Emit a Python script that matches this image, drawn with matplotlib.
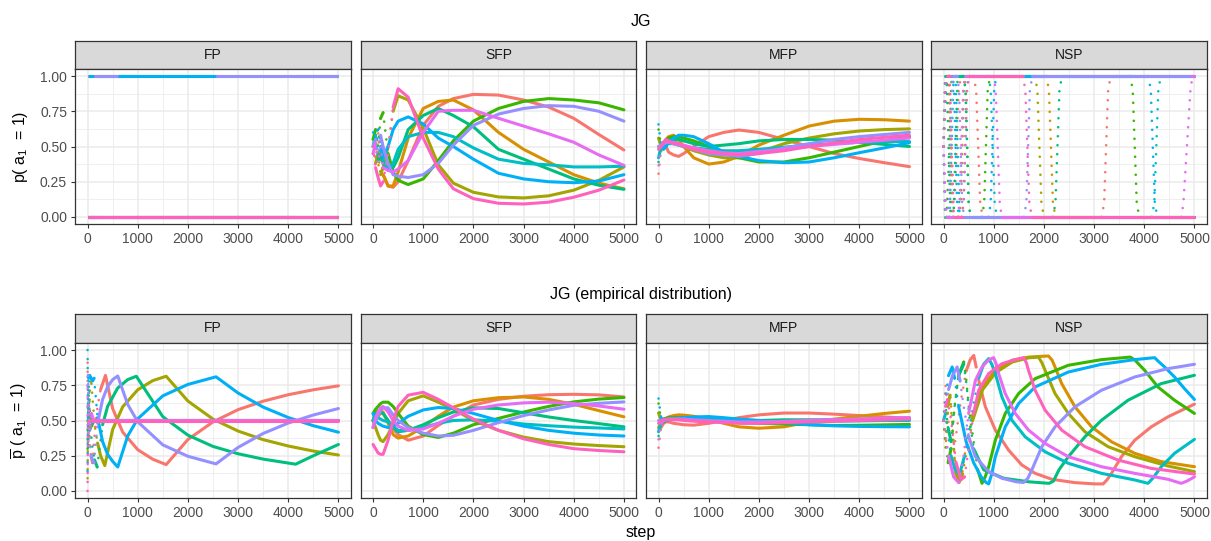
import numpy as np
import matplotlib.pyplot as plt

plt.rcParams['font.family'] = ['Liberation Sans', 'DejaVu Sans']
plt.rcParams['mathtext.default'] = 'regular'

# ggplot hue palette, 10 runs
COLORS = ["#F8766D", "#D89000", "#A3A500", "#39B600", "#00BF7D",
          "#00BFC4", "#00B0F6", "#9590FF", "#E76BF3", "#FF62BC"]
PANELS = ["FP", "SFP", "MFP", "NSP"]

# ---------------- data ----------------
STEP_GRID = [0, 50, 100, 150, 200, 300, 400, 500, 700, 1000, 1300, 1600,
             2000, 2500, 3000, 3500, 4000, 4500, 5000]

# FP, p(a1=1): intervals where a run plays a1 (p = 1), otherwise p = 0
fp_on = [
    [(100, 357), (1567, 5000)],
    [],
    [(0, 70), (344, 1567)],
    [],
    [(192, 972), (4147, 5000)],
    [],
    [(0, 130), (602, 2560)],
    [(130, 602), (2560, 5000)],
    [],
    [],
]

sfp_p = [
    [0.55, 0.42, 0.6, 0.4, 0.3, 0.22, 0.21, 0.25, 0.4, 0.65, 0.785, 0.84, 0.87, 0.865, 0.83, 0.78, 0.7, 0.585, 0.475],
    [0.45, 0.55, 0.35, 0.45, 0.3, 0.22, 0.22, 0.32, 0.56, 0.77, 0.82, 0.83, 0.76, 0.6, 0.48, 0.39, 0.3, 0.24, 0.2],
    [0.5, 0.38, 0.45, 0.3, 0.35, 0.5, 0.75, 0.86, 0.83, 0.63, 0.37, 0.24, 0.175, 0.142, 0.135, 0.15, 0.19, 0.26, 0.355],
    [0.55, 0.62, 0.5, 0.7, 0.74, 0.45, 0.32, 0.26, 0.23, 0.27, 0.4, 0.54, 0.68, 0.77, 0.82, 0.84, 0.83, 0.81, 0.76],
    [0.5, 0.58, 0.4, 0.45, 0.38, 0.35, 0.35, 0.42, 0.62, 0.72, 0.77, 0.72, 0.64, 0.48, 0.41, 0.34, 0.27, 0.225, 0.196],
    [0.45, 0.6, 0.42, 0.55, 0.4, 0.33, 0.38, 0.48, 0.57, 0.6, 0.6, 0.57, 0.49, 0.41, 0.38, 0.37, 0.355, 0.355, 0.36],
    [0.6, 0.48, 0.65, 0.5, 0.42, 0.5, 0.62, 0.68, 0.71, 0.66, 0.56, 0.5, 0.41, 0.31, 0.27, 0.25, 0.243, 0.255, 0.3],
    [0.5, 0.55, 0.45, 0.58, 0.5, 0.38, 0.3, 0.29, 0.28, 0.3, 0.38, 0.51, 0.65, 0.73, 0.77, 0.79, 0.785, 0.75, 0.68],
    [0.45, 0.52, 0.38, 0.5, 0.35, 0.33, 0.32, 0.34, 0.4, 0.6, 0.75, 0.757, 0.757, 0.7, 0.645, 0.59, 0.53, 0.44, 0.366],
    [0.5, 0.35, 0.28, 0.22, 0.25, 0.45, 0.78, 0.91, 0.85, 0.56, 0.34, 0.2, 0.13, 0.097, 0.092, 0.105, 0.14, 0.19, 0.262],
]

mfp_p = [
    [0.307, 0.48, 0.52, 0.5, 0.46, 0.44, 0.43, 0.45, 0.5, 0.57, 0.6, 0.617, 0.6, 0.55, 0.5, 0.45, 0.415, 0.385, 0.357],
    [0.5, 0.47, 0.5, 0.55, 0.57, 0.58, 0.55, 0.5, 0.42, 0.375, 0.39, 0.43, 0.51, 0.58, 0.645, 0.68, 0.693, 0.69, 0.68],
    [0.56, 0.5, 0.52, 0.54, 0.55, 0.54, 0.52, 0.5, 0.47, 0.44, 0.42, 0.42, 0.46, 0.52, 0.56, 0.59, 0.61, 0.62, 0.625],
    [0.62, 0.5, 0.53, 0.55, 0.56, 0.57, 0.57, 0.56, 0.54, 0.5, 0.45, 0.42, 0.39, 0.39, 0.42, 0.46, 0.5, 0.54, 0.57],
    [0.39, 0.5, 0.52, 0.53, 0.54, 0.55, 0.55, 0.54, 0.52, 0.5, 0.51, 0.52, 0.54, 0.55, 0.55, 0.545, 0.53, 0.515, 0.5],
    [0.42, 0.5, 0.51, 0.52, 0.52, 0.52, 0.51, 0.5, 0.49, 0.48, 0.47, 0.47, 0.48, 0.495, 0.51, 0.52, 0.53, 0.535, 0.535],
    [0.657, 0.5, 0.48, 0.5, 0.53, 0.56, 0.58, 0.58, 0.57, 0.52, 0.46, 0.43, 0.4, 0.385, 0.39, 0.42, 0.456, 0.49, 0.527],
    [0.5, 0.51, 0.52, 0.53, 0.53, 0.52, 0.51, 0.5, 0.48, 0.45, 0.44, 0.43, 0.45, 0.49, 0.52, 0.55, 0.57, 0.585, 0.6],
    [0.366, 0.5, 0.52, 0.53, 0.53, 0.53, 0.52, 0.51, 0.49, 0.47, 0.455, 0.45, 0.465, 0.48, 0.5, 0.515, 0.53, 0.545, 0.56],
    [0.48, 0.5, 0.53, 0.55, 0.54, 0.52, 0.52, 0.5, 0.48, 0.46, 0.45, 0.44, 0.45, 0.47, 0.5, 0.525, 0.55, 0.565, 0.58],
]

nsp_p = [
    [(0, 0.5), (30, 0.8), (60, 1), (100, 1), (130, 0.5), (160, 0), (180, 0), (220, 0.1), (300, 0.9), (350, 1), (600, 1), (650, 0.9), (730, 0.1), (780, 0), (3150, 0), (3200, 0.1), (3280, 0.9), (3330, 1), (5000, 1)],
    [(0, 0.5), (40, 1), (100, 1), (140, 0.5), (180, 0), (300, 0), (340, 0.1), (400, 0.9), (440, 1), (2050, 1), (2100, 0.9), (2180, 0.1), (2230, 0), (5000, 0)],
    [(0, 0.5), (40, 0.9), (80, 1), (120, 1), (160, 0.5), (200, 0), (300, 0), (340, 0.1), (400, 0.9), (440, 1), (1820, 1), (1870, 0.9), (1950, 0.1), (2000, 0), (5000, 0)],
    [(0, 0.5), (30, 0), (60, 0), (120, 0.5), (160, 1), (400, 1), (440, 0.9), (500, 0.1), (540, 0), (767, 0), (810, 0.1), (880, 0.9), (930, 1), (3720, 1), (3770, 0.9), (3850, 0.1), (3900, 0), (5000, 0)],
    [(0, 0.5), (30, 1), (60, 1), (100, 0.5), (140, 0), (200, 0), (240, 0.5), (280, 1), (400, 1), (440, 0.9), (500, 0.1), (540, 0), (2180, 0), (2230, 0.1), (2310, 0.9), (2360, 1), (5000, 1)],
    [(0, 0.5), (40, 0), (120, 0), (160, 0.5), (200, 1), (240, 1), (280, 0.5), (320, 0), (360, 0), (400, 0.1), (460, 0.9), (500, 1), (899, 1), (940, 0.9), (1020, 0.1), (1060, 0), (4150, 0), (4200, 0.1), (4280, 0.9), (4330, 1), (5000, 1)],
    [(0, 0.5), (40, 0.9), (80, 1), (172, 1), (210, 0.9), (270, 0.1), (310, 0), (899, 0), (940, 0.1), (1010, 0.9), (1050, 1), (4080, 1), (4130, 0.9), (4210, 0.1), (4260, 0), (5000, 0)],
    [(0, 0.5), (40, 0), (100, 0), (140, 0.5), (180, 1), (271, 1), (310, 0.9), (370, 0.1), (410, 0), (1600, 0), (1650, 0.1), (1720, 0.9), (1770, 1), (5000, 1)],
    [(0, 0.5), (40, 0.1), (70, 0), (280, 0), (320, 0.1), (390, 0.9), (430, 1), (999, 1), (1040, 0.9), (1120, 0.1), (1160, 0), (4740, 0), (4780, 0.1), (4920, 0.9), (4960, 1), (5000, 1)],
    [(0, 0.5), (30, 0.9), (60, 1), (120, 1), (160, 0.5), (200, 0), (360, 0), (400, 0.1), (470, 0.9), (510, 1), (1580, 1), (1630, 0.9), (1710, 0.1), (1760, 0), (5000, 0)],
]

fp_emp = [
    [(0, 0.91), (10, 0.45), (25, 0.7), (45, 0.3), (70, 0.25), (100, 0.2), (150, 0.45), (200, 0.6), (260, 0.72), (357, 0.82), (500, 0.585), (700, 0.418), (1000, 0.293), (1300, 0.225), (1567, 0.187), (2000, 0.365), (2500, 0.49), (3000, 0.577), (3500, 0.637), (4000, 0.683), (4500, 0.718), (5000, 0.746)],
    [(0, 0.6), (15, 0.4), (30, 0.58), (50, 0.45), (80, 0.52), (120, 0.5), (5000, 0.5)],
    [(0, 0.09), (10, 0.55), (25, 0.35), (45, 0.7), (70, 0.8), (100, 0.65), (150, 0.45), (200, 0.34), (260, 0.25), (344, 0.18), (500, 0.436), (700, 0.597), (1000, 0.718), (1300, 0.783), (1567, 0.814), (2000, 0.638), (2500, 0.51), (3000, 0.425), (3500, 0.364), (4000, 0.319), (4500, 0.283), (5000, 0.255)],
    [(0, 0.3), (15, 0.65), (30, 0.4), (50, 0.58), (80, 0.46), (120, 0.5), (5000, 0.5)],
    [(0, 0.5), (10, 0.3), (25, 0.75), (45, 0.55), (70, 0.4), (100, 0.3), (140, 0.22), (192, 0.17), (300, 0.47), (400, 0.6), (600, 0.73), (800, 0.79), (972, 0.814), (1500, 0.527), (2000, 0.396), (2500, 0.316), (3000, 0.264), (3500, 0.226), (4000, 0.198), (4147, 0.19), (4500, 0.25), (5000, 0.33)],
    [(0, 1.0), (10, 0.5), (25, 0.62), (45, 0.42), (70, 0.55), (100, 0.48), (140, 0.5), (5000, 0.5)],
    [(0, 0.14), (10, 0.6), (25, 0.8), (45, 0.82), (70, 0.8), (100, 0.78), (130, 0.8), (200, 0.52), (300, 0.35), (400, 0.26), (500, 0.21), (602, 0.17), (800, 0.39), (1000, 0.512), (1500, 0.675), (2000, 0.756), (2560, 0.81), (3000, 0.695), (3500, 0.595), (4000, 0.521), (4500, 0.463), (5000, 0.417)],
    [(0, 0.75), (10, 0.85), (25, 0.5), (45, 0.35), (70, 0.25), (100, 0.22), (130, 0.2), (200, 0.48), (300, 0.65), (400, 0.74), (500, 0.79), (602, 0.816), (800, 0.614), (1000, 0.491), (1500, 0.327), (2000, 0.246), (2560, 0.192), (3000, 0.309), (3500, 0.408), (4000, 0.482), (4500, 0.539), (5000, 0.585)],
    [(0, 0.73), (15, 0.35), (30, 0.62), (50, 0.42), (80, 0.55), (120, 0.5), (5000, 0.5)],
    [(0, 0.0), (8, 0.5), (5000, 0.5)],
]

sfp_emp = [
    [0.45, 0.5, 0.53, 0.55, 0.55, 0.5, 0.44, 0.4, 0.36, 0.39, 0.465, 0.53, 0.61, 0.65, 0.672, 0.683, 0.686, 0.682, 0.667],
    [0.5, 0.55, 0.57, 0.57, 0.56, 0.48, 0.4, 0.375, 0.39, 0.455, 0.53, 0.595, 0.64, 0.662, 0.667, 0.65, 0.615, 0.57, 0.526],
    [0.5, 0.45, 0.4, 0.36, 0.35, 0.4, 0.48, 0.55, 0.64, 0.675, 0.63, 0.58, 0.5, 0.43, 0.382, 0.35, 0.333, 0.322, 0.314],
    [0.55, 0.58, 0.6, 0.62, 0.63, 0.63, 0.6, 0.55, 0.46, 0.4, 0.38, 0.41, 0.47, 0.515, 0.56, 0.6, 0.632, 0.652, 0.663],
    [0.5, 0.55, 0.56, 0.56, 0.55, 0.5, 0.45, 0.42, 0.43, 0.47, 0.52, 0.56, 0.59, 0.585, 0.555, 0.525, 0.5, 0.478, 0.455],
    [0.5, 0.53, 0.52, 0.51, 0.5, 0.49, 0.46, 0.43, 0.43, 0.45, 0.48, 0.5, 0.505, 0.495, 0.475, 0.463, 0.453, 0.447, 0.44],
    [0.55, 0.5, 0.48, 0.47, 0.46, 0.45, 0.46, 0.48, 0.53, 0.575, 0.592, 0.585, 0.55, 0.5, 0.46, 0.43, 0.41, 0.397, 0.39],
    [0.45, 0.5, 0.54, 0.57, 0.59, 0.59, 0.54, 0.5, 0.45, 0.41, 0.39, 0.395, 0.43, 0.485, 0.535, 0.575, 0.608, 0.622, 0.632],
    [0.45, 0.52, 0.56, 0.59, 0.6, 0.56, 0.5, 0.46, 0.43, 0.44, 0.48, 0.53, 0.58, 0.61, 0.625, 0.63, 0.62, 0.603, 0.58],
    [0.33, 0.3, 0.27, 0.26, 0.26, 0.36, 0.5, 0.6, 0.68, 0.7, 0.65, 0.59, 0.51, 0.43, 0.37, 0.33, 0.3, 0.287, 0.278],
]

mfp_emp = [
    [0.307, 0.45, 0.48, 0.49, 0.49, 0.48, 0.475, 0.47, 0.467, 0.48, 0.5, 0.52, 0.54, 0.553, 0.553, 0.545, 0.535, 0.525, 0.515],
    [0.45, 0.48, 0.5, 0.515, 0.525, 0.535, 0.54, 0.538, 0.53, 0.51, 0.48, 0.455, 0.445, 0.455, 0.49, 0.51, 0.53, 0.55, 0.566],
    [0.554, 0.5, 0.51, 0.515, 0.52, 0.52, 0.52, 0.52, 0.51, 0.5, 0.49, 0.485, 0.485, 0.49, 0.495, 0.5, 0.505, 0.508, 0.51],
    [0.62, 0.5, 0.51, 0.515, 0.52, 0.52, 0.52, 0.52, 0.515, 0.51, 0.495, 0.485, 0.48, 0.475, 0.47, 0.465, 0.466, 0.469, 0.472],
    [0.39, 0.48, 0.49, 0.5, 0.505, 0.51, 0.515, 0.52, 0.52, 0.515, 0.51, 0.505, 0.5, 0.505, 0.505, 0.505, 0.505, 0.506, 0.507],
    [0.42, 0.49, 0.5, 0.505, 0.51, 0.515, 0.515, 0.515, 0.51, 0.505, 0.5, 0.495, 0.49, 0.49, 0.49, 0.495, 0.497, 0.5, 0.5],
    [0.656, 0.52, 0.5, 0.5, 0.505, 0.51, 0.515, 0.52, 0.525, 0.528, 0.52, 0.51, 0.5, 0.485, 0.47, 0.462, 0.458, 0.456, 0.455],
    [0.5, 0.5, 0.505, 0.51, 0.51, 0.51, 0.51, 0.508, 0.505, 0.5, 0.495, 0.49, 0.49, 0.495, 0.5, 0.505, 0.51, 0.515, 0.52],
    [0.366, 0.48, 0.5, 0.505, 0.51, 0.51, 0.51, 0.51, 0.5, 0.495, 0.49, 0.485, 0.485, 0.49, 0.5, 0.505, 0.51, 0.515, 0.52],
    [0.48, 0.5, 0.505, 0.505, 0.505, 0.505, 0.505, 0.5, 0.495, 0.49, 0.485, 0.48, 0.48, 0.485, 0.49, 0.495, 0.5, 0.505, 0.51],
]

nsp_emp = [
    [(0, 0.5), (40, 0.75), (80, 0.6), (130, 0.3), (172, 0.2), (250, 0.4), (350, 0.65), (450, 0.85), (530, 0.93), (602, 0.962), (650, 0.88), (701, 0.785), (833, 0.597), (1032, 0.432), (1296, 0.29), (1561, 0.184), (1825, 0.125), (2156, 0.083), (2619, 0.059), (3016, 0.05), (3181, 0.05), (3260, 0.08), (3347, 0.125), (3545, 0.243), (3810, 0.36), (4140, 0.455), (4471, 0.526), (5000, 0.616)],
    [(0, 0.5), (40, 0.3), (80, 0.55), (130, 0.7), (180, 0.45), (240, 0.15), (304, 0.066), (370, 0.14), (437, 0.29), (569, 0.526), (767, 0.738), (1032, 0.856), (1362, 0.927), (1693, 0.95), (2090, 0.958), (2160, 0.93), (2222, 0.88), (2354, 0.762), (2619, 0.597), (2950, 0.455), (3347, 0.349), (3810, 0.267), (4339, 0.208), (5000, 0.172)],
    [(0, 0.5), (40, 0.4), (80, 0.6), (130, 0.68), (180, 0.45), (240, 0.13), (310, 0.06), (380, 0.12), (450, 0.26), (580, 0.5), (780, 0.72), (1040, 0.84), (1370, 0.915), (1700, 0.945), (1892, 0.95), (1960, 0.91), (2024, 0.856), (2222, 0.691), (2487, 0.55), (2817, 0.42), (3280, 0.314), (3810, 0.243), (4471, 0.177), (5000, 0.137)],
    [(0, 0.5), (40, 0.35), (90, 0.2), (150, 0.3), (220, 0.6), (300, 0.82), (403, 0.915), (450, 0.8), (503, 0.597), (600, 0.35), (680, 0.15), (767, 0.054), (830, 0.1), (899, 0.172), (1032, 0.36), (1230, 0.55), (1495, 0.691), (1825, 0.797), (2487, 0.892), (3148, 0.932), (3720, 0.95), (3810, 0.93), (4008, 0.856), (4272, 0.738), (4603, 0.644), (5000, 0.55)],
    [(0, 0.5), (40, 0.6), (90, 0.45), (150, 0.35), (220, 0.6), (300, 0.82), (403, 0.9), (460, 0.75), (520, 0.5), (600, 0.3), (800, 0.15), (1200, 0.09), (1700, 0.065), (2100, 0.054), (2190, 0.07), (2300, 0.15), (2487, 0.243), (2817, 0.384), (3148, 0.502), (3677, 0.644), (4339, 0.762), (5000, 0.821)],
    [(0, 0.5), (40, 0.55), (90, 0.4), (150, 0.25), (230, 0.15), (320, 0.12), (420, 0.25), (503, 0.42), (600, 0.62), (700, 0.8), (800, 0.9), (899, 0.939), (960, 0.9), (1032, 0.833), (1164, 0.667), (1362, 0.502), (1627, 0.384), (2024, 0.278), (2487, 0.196), (3148, 0.125), (3810, 0.078), (4074, 0.054), (4170, 0.09), (4339, 0.172), (4603, 0.267), (5000, 0.366)],
    [(0, 0.5), (40, 0.65), (100, 0.82), (172, 0.88), (220, 0.8), (300, 0.6), (450, 0.35), (600, 0.2), (750, 0.1), (850, 0.06), (899, 0.05), (960, 0.12), (1032, 0.243), (1230, 0.455), (1495, 0.62), (1825, 0.738), (2487, 0.844), (3148, 0.899), (3810, 0.932), (4206, 0.946), (4280, 0.92), (4405, 0.88), (4603, 0.809), (4802, 0.726), (5000, 0.649)],
    [(0, 0.5), (40, 0.6), (100, 0.72), (180, 0.82), (271, 0.88), (330, 0.78), (403, 0.597), (503, 0.384), (635, 0.243), (899, 0.137), (1164, 0.09), (1450, 0.065), (1594, 0.06), (1680, 0.09), (1759, 0.149), (1958, 0.314), (2222, 0.455), (2619, 0.597), (3148, 0.715), (3810, 0.809), (4471, 0.868), (5000, 0.899)],
    [(0, 0.5), (40, 0.4), (100, 0.25), (200, 0.1), (300, 0.06), (400, 0.25), (500, 0.55), (635, 0.785), (767, 0.88), (900, 0.93), (999, 0.946), (1050, 0.9), (1098, 0.833), (1230, 0.691), (1429, 0.55), (1693, 0.432), (2024, 0.337), (2487, 0.243), (3148, 0.172), (3810, 0.125), (4471, 0.083), (4735, 0.054), (4850, 0.07), (5000, 0.1)],
    [(0, 0.5), (40, 0.6), (80, 0.65), (150, 0.5), (250, 0.2), (350, 0.08), (420, 0.1), (500, 0.3), (600, 0.55), (701, 0.715), (899, 0.833), (1164, 0.903), (1429, 0.932), (1594, 0.946), (1650, 0.91), (1693, 0.856), (1825, 0.715), (2024, 0.573), (2354, 0.432), (2817, 0.314), (3479, 0.219), (4140, 0.16), (5000, 0.12)],
]

# ---------------- layout (pixel boxes) ----------------
W, H = 1211, 541
fig = plt.figure(figsize=(W / 100, H / 100), dpi=100)


def box(x0, y0, x1, y1):
    return [x0 / W, 1 - y1 / H, (x1 - x0) / W, (y1 - y0) / H]


PANEL_LEFT = [75, 360.5, 646, 931]
PANEL_W = 276
ROWS = [
    {"strip": (41, 69), "panel": (69, 224), "title": "JG", "title_y": 21,
     "ylabel": r"p( a$_1$  = 1)"},
    {"strip": (314, 343), "panel": (343, 498), "title": "JG (empirical distribution)",
     "title_y": 294, "ylabel": r"$\overline{p}$ ( a$_1$  = 1)"},
]


def setup_axes(ax, first_col):
    ax.set_xlim(-250, 5250)
    ax.set_ylim(-0.05, 1.05)
    ax.set_xticks(range(0, 5001, 1000))
    ax.set_xticks(range(500, 5000, 1000), minor=True)
    ax.set_yticks([0, 0.25, 0.5, 0.75, 1.0])
    ax.set_yticks([0.125, 0.375, 0.625, 0.875], minor=True)
    ax.grid(which="major", color="#EBEBEB", lw=1.1)
    ax.grid(which="minor", color="#EBEBEB", lw=0.55)
    ax.set_axisbelow(True)
    for s in ax.spines.values():
        s.set_color("#333333")
        s.set_linewidth(0.9)
        s.set_zorder(5)
    ax.tick_params(which="major", length=3.2, width=0.8, color="#333333",
                   labelsize=10, labelcolor="#4D4D4D", pad=2.5)
    ax.tick_params(which="minor", length=0)
    if first_col:
        ax.set_yticklabels(["0.00", "0.25", "0.50", "0.75", "1.00"])
    else:
        ax.tick_params(axis="y", which="major", length=0, labelleft=False)


def strip(x0, y0, x1, y1, label):
    s = fig.add_axes(box(x0, y0, x1, y1))
    s.set_facecolor("#D9D9D9")
    s.set_xticks([])
    s.set_yticks([])
    for sp in s.spines.values():
        sp.set_color("#333333")
        sp.set_linewidth(0.9)
    s.text(0.5, 0.5, label, ha="center", va="center", fontsize=10, color="#1A1A1A",
           transform=s.transAxes)


def draw_path(ax, xs, ys, color, ratio=5.0):
    # fast (steep) moves show as separated dots, slow ones merge into a line
    xs = np.asarray(xs, float)
    ys = np.asarray(ys, float)
    p0 = ax.transData.transform((0, 0))
    p1 = ax.transData.transform((1000, 1))
    sx = (p1[0] - p0[0]) / 1000.0
    sy = p1[1] - p0[1]
    steep = np.abs(np.diff(ys)) * sy > ratio * np.diff(xs) * sx
    i, n = 0, len(steep)
    while i < n:
        j = i
        while j + 1 < n and steep[j + 1] == steep[i]:
            j += 1
        if steep[i]:
            ax.plot(xs[i:j + 2], ys[i:j + 2], color=color, lw=1.9,
                    linestyle=(0, (0.01, 3.4)), dash_capstyle="round", zorder=3)
        else:
            ax.plot(xs[i:j + 2], ys[i:j + 2], color=color, lw=2.2,
                    solid_capstyle="round", solid_joinstyle="round", zorder=3)
        i = j + 1


def draw_knots(ax, runs):
    for k, run in enumerate(runs):
        xs = [p[0] for p in run]
        ys = [p[1] for p in run]
        draw_path(ax, xs, ys, COLORS[k])


def draw_grid(ax, runs):
    for k, vals in enumerate(runs):
        draw_path(ax, STEP_GRID, vals, COLORS[k])


def draw_fp_top(ax):
    for k, on in enumerate(fp_on):
        edges = [0]
        for a, b in on:
            edges += [a, b]
        edges.append(5000)
        off = [(edges[i], edges[i + 1]) for i in range(0, len(edges), 2)
               if edges[i + 1] > edges[i]]
        for a, b in on:
            ax.plot([a, b], [1, 1], color=COLORS[k], lw=2.2, zorder=3,
                    solid_capstyle="butt")
        for a, b in off:
            ax.plot([a, b], [0, 0], color=COLORS[k], lw=2.2, zorder=3,
                    solid_capstyle="butt")


for r, row in enumerate(ROWS):
    for c, name in enumerate(PANELS):
        x0 = PANEL_LEFT[c]
        x1 = x0 + PANEL_W
        strip(x0, row["strip"][0], x1, row["strip"][1], name)
        ax = fig.add_axes(box(x0, row["panel"][0], x1, row["panel"][1]))
        setup_axes(ax, c == 0)
        if r == 0:
            if name == "FP":
                draw_fp_top(ax)
            elif name == "SFP":
                draw_grid(ax, sfp_p)
            elif name == "MFP":
                draw_grid(ax, mfp_p)
            else:
                draw_knots(ax, nsp_p)
        else:
            if name == "FP":
                draw_knots(ax, fp_emp)
            elif name == "SFP":
                draw_grid(ax, sfp_emp)
            elif name == "MFP":
                draw_grid(ax, mfp_emp)
            else:
                draw_knots(ax, nsp_emp)
    fig.text(641 / W, 1 - row["title_y"] / H, row["title"], ha="center", va="center",
             fontsize=11.5, color="black")
    mid = (row["panel"][0] + row["panel"][1]) / 2
    fig.text(20 / W, 1 - mid / H, row["ylabel"], rotation=90, ha="center", va="center",
             fontsize=11.5)

fig.text(641 / W, 1 - 532 / H, "step", ha="center", va="center", fontsize=11.5)

fig.savefig("out.png", dpi=100)
